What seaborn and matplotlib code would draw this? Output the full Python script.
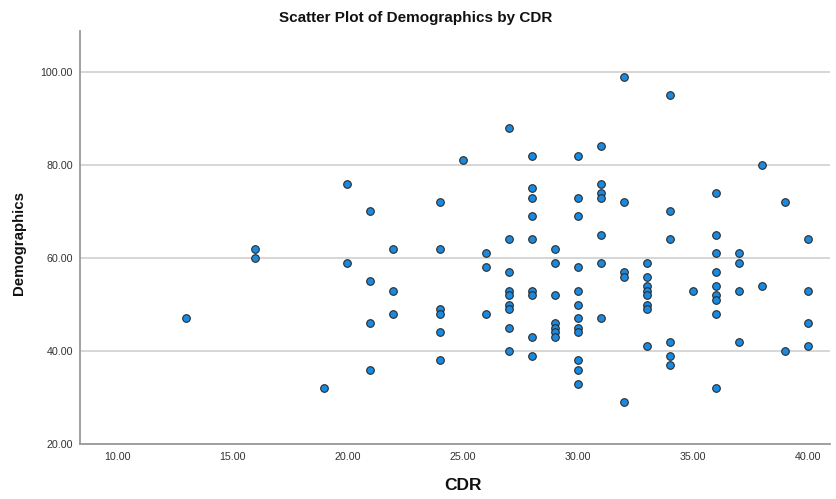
import matplotlib
matplotlib.use("Agg")
import matplotlib.pyplot as plt
import seaborn as sns
import pandas as pd
from matplotlib.ticker import FormatStrFormatter, MultipleLocator

cdr_levels = [13, 16, 19, 20, 21, 22, 24, 25, 26, 27, 28, 29, 30, 31, 32, 33, 34, 35, 36, 37, 38, 39, 40]
demo_by_cdr = [
    [47],
    [62, 60],
    [32],
    [76, 59],
    [70, 55, 46, 36],
    [62, 53, 48],
    [72, 62, 49, 48, 44, 38],
    [81],
    [61, 58, 48],
    [88, 64, 57, 53, 52, 50, 49, 45, 40],
    [82, 75, 73, 69, 64, 53, 52, 43, 39],
    [62, 59, 52, 46, 45, 44, 43],
    [82, 73, 69, 58, 53, 50, 47, 45, 44, 38, 36, 33],
    [84, 76, 74, 73, 65, 59, 47],
    [99, 72, 57, 56, 29],
    [59, 56, 54, 53, 52, 50, 49, 41],
    [95, 70, 64, 42, 39, 37],
    [53],
    [74, 65, 61, 57, 54, 52, 51, 48, 32],
    [61, 59, 53, 42],
    [80, 54],
    [72, 40],
    [64, 53, 46, 41],
]

cdr = []
demographics = []
for c, vals in zip(cdr_levels, demo_by_cdr):
    for v in vals:
        cdr.append(c)
        demographics.append(v)
df = pd.DataFrame({"CDR": cdr, "Demographics": demographics})

sns.set_theme(style="white")
plt.rcParams["font.family"] = ["Liberation Sans", "DejaVu Sans"]

fig = plt.figure(figsize=(8.36, 4.99), dpi=100)
ax = fig.add_axes([0.0957, 0.110, 0.897, 0.828])

sns.scatterplot(data=df, x="CDR", y="Demographics", ax=ax, s=30,
                color="#1a8ae0", edgecolor="#2a2a2a", linewidth=0.8, zorder=3)

ax.set_xlim(8.39, 40.95)
ax.set_ylim(20, 108.8)
ax.xaxis.set_major_locator(MultipleLocator(5))
ax.yaxis.set_major_locator(MultipleLocator(20))
ax.xaxis.set_major_formatter(FormatStrFormatter("%.2f"))
ax.yaxis.set_major_formatter(FormatStrFormatter("%.2f"))
ax.grid(axis="y", color="#d0d0d0", linewidth=1.2, zorder=0)
ax.grid(axis="x", visible=False)
ax.tick_params(axis="both", length=0, labelsize=7.7, colors="#333333")
ax.tick_params(axis="x", pad=6)
ax.tick_params(axis="y", pad=5)

for side in ["top", "right"]:
    ax.spines[side].set_visible(False)
for side in ["left", "bottom"]:
    ax.spines[side].set_color("#9a9a9a")
    ax.spines[side].set_linewidth(1.3)

fig.suptitle("Scatter Plot of Demographics by CDR", x=0.497, y=0.964, fontsize=11,
             fontweight="bold", color="#111111", va="center")
ax.set_xlabel("CDR", fontsize=12.5, fontweight="bold", color="#111111")
ax.xaxis.set_label_coords(0.511, -0.083)
ax.set_ylabel("Demographics", fontsize=10.8, fontweight="bold", color="#111111")
ax.yaxis.set_label_coords(-0.072, 0.487)

fig.savefig("out.png", dpi=100)
